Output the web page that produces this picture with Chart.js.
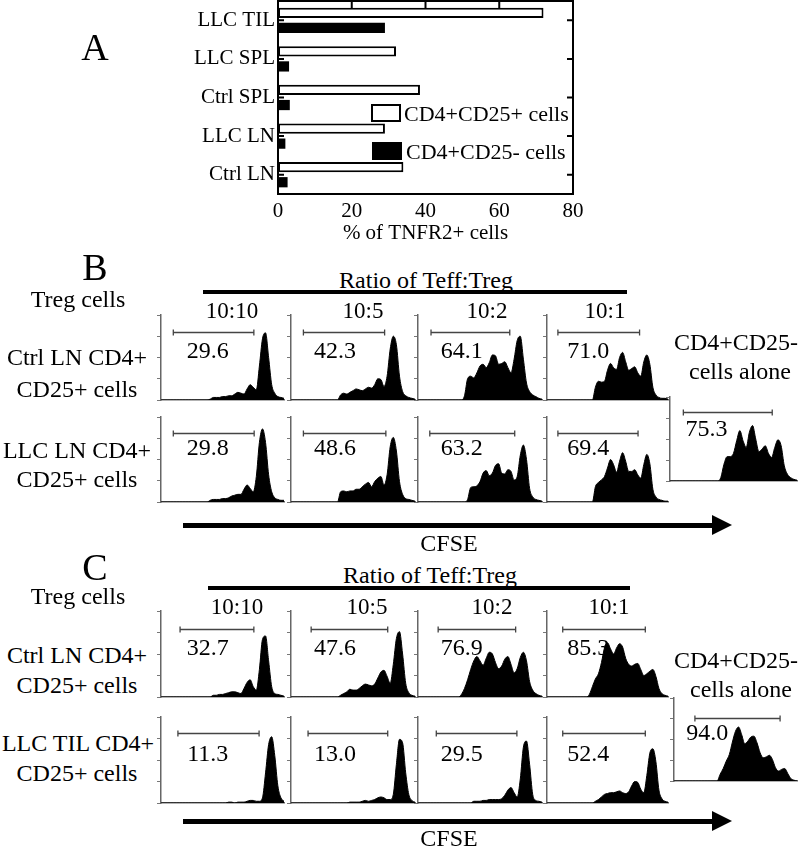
<!DOCTYPE html>
<html><head><meta charset="utf-8">
<script src="https://cdn.jsdelivr.net/npm/chart.js@4.4.0/dist/chart.umd.min.js"></script>
<style>
html,body{margin:0;padding:0;background:#fff;}
#root{position:relative;width:800px;height:846px;overflow:hidden;font-family:"Liberation Serif","Times New Roman",serif;color:#000;background:#fff;}
.t{position:absolute;white-space:nowrap;line-height:1;transform:translate(-50%,-50%);}
canvas{position:absolute;}
.bar{position:absolute;background:#000;}
.tri{position:absolute;width:0;height:0;border-left:20px solid #000;border-top:10px solid transparent;border-bottom:10px solid transparent;}
</style></head><body><div id="root"></div>
<script>
// ---------- Panel A data ----------
const A_CATEGORIES = ['LLC TIL', 'LLC SPL', 'Ctrl SPL', 'LLC LN', 'Ctrl LN'];
const A_CD25POS = [72, 32, 38.5, 29, 34];
const A_CD25NEG = [29, 3, 3.2, 2, 2.6];
const A_TICKS = [0, 20, 40, 60, 80];
const A_SERIES = ['CD4+CD25+ cells', 'CD4+CD25- cells'];

// ---------- Histogram data (CFSE channel 0..40, % of max counts) ----------
const CHANNELS = [0,1,2,3,4,5,6,7,8,9,10,11,12,13,14,15,16,17,18,19,20,21,22,23,24,25,26,27,28,29,30,31,32,33,34,35,36,37,38,39,40];
const RATIOS = ['10:10', '10:5', '10:2', '10:1'];

const B_CTRL_1010 = [0,0,0,0,0,0,0,0,0,0,0,0,0,0,0,0, 1,3,3,3,4,4,5,5,7,9, 8,7,13,18,15,12,40,72,79,50, 18,8,4,3,2];
const B_CTRL_105  = [0,0,0,0,0,0,0,0,0,0,0,0,0,0,0,0, 6,8,7,9,11,13,12,11,13,15, 14,18,25,24,16,28,60,75,65,28, 10,5,3,2,1];
const B_CTRL_102  = [0,0,0,0,0,0,0,0,0,0,0,0,0,0,0, 5,25,28,26,32,40,42,38,44,53, 52,42,43,45,38,32,48,70,75,48, 20,10,6,4,2,1];
const B_CTRL_101  = [0,0,0,0,0,0,0,0,0,0,0,0,0,0,0,0, 15,22,21,22,35,43,38,36,50,56, 45,35,37,39,32,28,45,53,42,15, 6,3,2,2,1];
const B_ALONE     = [0,0,0,0,0,0,0,0,0,0,0,0,0,0,0,0, 4,20,29,29,33,48,60,48,40,58, 66,50,35,38,42,33,28,40,49,42, 18,8,4,2,1];
const B_LLC_1010  = [0,0,0,0,0,0,0,0,0,0,0,0,0,0,0,0, 2,3,3,3,4,4,5,7,8,9, 9,15,20,16,12,30,70,86,70,32, 12,5,3,2,2];
const B_LLC_105   = [0,0,0,0,0,0,0,0,0,0,0,0,0,0,0,0, 12,13,12,13,13,15,15,18,21,23, 18,24,28,30,20,32,65,76,60,24, 9,4,3,2,1];
const B_LLC_102   = [0,0,0,0,0,0,0,0,0,0,0,0,0,0,0,0, 3,17,18,19,24,34,37,31,34,43, 45,34,33,38,36,26,30,55,67,50, 16,6,3,2,1];
const B_LLC_101   = [0,0,0,0,0,0,0,0,0,0,0,0,0,0,0,0, 18,23,26,30,40,50,44,35,48,58, 48,36,36,38,32,28,44,56,45,15, 6,3,2,1,1];

const C_CTRL_1010 = [0,0,0,0,0,0,0,0,0,0,0,0,0,0,0,0,0, 2,2,3,3,4,5,6,6,5,4, 10,17,20,12,8,32,67,71,42,12, 4,3,2,1];
const C_CTRL_105  = [0,0,0,0,0,0,0,0,0,0,0,0,0,0,0,0, 2,4,6,9,8,8,10,13,15,14, 13,15,22,29,31,24,16,38,68,76, 50,16,5,2,1];
const C_CTRL_102  = [0,0,0,0,0,0,0,0,0,0,0,0,0,0, 3,10,20,32,42,47,42,37,45,52, 50,40,33,36,44,47,38,28,33,46, 52,42,18,8,4,2,1];
const C_CTRL_101  = [0,0,0,0,0,0,0,0,0,0,0,0,0,0, 3,12,21,27,40,57,63,56,50,57, 62,58,45,38,36,38,39,32,25,27, 30,32,24,10,4,2,1];
const C_ALONE     = [0,0,0,0,0,0,0,0,0,0,0,0,0,0,0, 8,15,24,32,47,60,65,56,45,48, 53,54,46,34,28,29,31,26,16,12, 14,15,9,3,1,0];
const C_TIL_1010  = [0,0,0,0,0,0,0,0,0,0,0,0,0,0,0,0,0,0,0,0,0, 0,1,1,0,1,1,1,2,3,3, 2,2,6,35,68,77,55,20,6,2];
const C_TIL_105   = [0,0,0,0,0,0,0,0,0,0,0,0,0,0,0,0,0,0,0, 1,1,1,1,2,3,2,3,4,6, 7,6,4,4,10,45,74,70,35,10, 3,1];
const C_TIL_102   = [0,0,0,0,0,0,0,0,0,0,0,0,0,0,0,0,0,0, 2,2,2,3,3,4,4,4,4,5, 9,15,18,12,7,28,65,72,45,10, 3,2,1];
const C_TIL_101   = [0,0,0,0,0,0,0,0,0,0,0,0,0,0,0,0, 2,4,7,10,11,12,12,13,14,12, 11,13,20,25,24,16,12,32,58,63, 48,15,5,2,1];

// percentage of divided cells inside each gate
const B_PCT_CTRL = ['29.6', '42.3', '64.1', '71.0'];
const B_PCT_LLC  = ['29.8', '48.6', '63.2', '69.4'];
const B_PCT_ALONE = '75.3';
const C_PCT_CTRL = ['32.7', '47.6', '76.9', '85.3'];
const C_PCT_TIL  = ['11.3', '13.0', '29.5', '52.4'];
const C_PCT_ALONE = '94.0';

// gate boundaries (CFSE channel)
const B_GATE_CTRL = [[4, 30.2], [4, 30.2], [4.2, 29.6], [3.6, 30.6]];
const B_GATE_LLC  = [[4, 30.3], [4, 30.6], [3.8, 31.2], [3.6, 30.1]];
const B_GATE_ALONE = [4.2, 32.2];
const C_GATE_CTRL = [[6.2, 30.2], [6.5, 31.2], [6.5, 31.5], [5.2, 32.5]];
const C_GATE_TIL  = [[5.5, 31.9], [5.5, 31.2], [5.9, 31.9], [5.2, 32.5]];
const C_GATE_ALONE = [6.8, 34.5];

// ---------- helpers ----------
const FONT = '"Liberation Serif", "Times New Roman", serif';
const root = document.getElementById('root');
function txt(s, x, y, size) {
  const d = document.createElement('div');
  d.className = 't'; d.textContent = s;
  d.style.left = x + 'px'; d.style.top = y + 'px'; d.style.fontSize = size + 'px';
  root.appendChild(d);
}
function rect(x, y, w, h) {
  const d = document.createElement('div'); d.className = 'bar';
  Object.assign(d.style, {left: x + 'px', top: y + 'px', width: w + 'px', height: h + 'px'});
  root.appendChild(d);
}
function tri(x, y) {
  const d = document.createElement('div'); d.className = 'tri';
  d.style.left = x + 'px'; d.style.top = y + 'px'; root.appendChild(d);
}
function mkCanvas(x, y, w, h) {
  const c = document.createElement('canvas');
  c.width = w; c.height = h;
  Object.assign(c.style, {left: x + 'px', top: y + 'px', width: w + 'px', height: h + 'px'});
  root.appendChild(c); return c;
}

// ---------- Panel A ----------
const frameTicks = {
  id: 'frameTicks',
  afterDraw(chart, args, o) {
    const {ctx, chartArea: a, scales: {x, y}} = chart;
    ctx.save();
    ctx.strokeStyle = '#000'; ctx.lineWidth = 2;
    ctx.strokeRect(a.left, a.top, a.right - a.left, a.bottom - a.top);
    ctx.beginPath();
    o.topTicks.forEach(v => { const px = x.getPixelForValue(v); ctx.moveTo(px, a.top); ctx.lineTo(px, a.top + 7); });
    y.ticks.forEach((t, i) => {
      const py = y.getPixelForTick(i);
      ctx.moveTo(a.left, py); ctx.lineTo(a.left + 6, py);
      ctx.moveTo(a.right, py); ctx.lineTo(a.right - 6, py);
    });
    ctx.stroke();
    // legend
    const ds = chart.data.datasets;
    ctx.font = '22px ' + FONT; ctx.textBaseline = 'alphabetic'; ctx.textAlign = 'left';
    o.legend.forEach((L, i) => {
      ctx.fillStyle = ds[i].backgroundColor; ctx.fillRect(L.bx, L.by, L.bw, L.bh);
      ctx.strokeStyle = '#000'; ctx.lineWidth = 2; ctx.strokeRect(L.bx, L.by, L.bw, L.bh);
      ctx.fillStyle = '#000'; ctx.fillText(ds[i].label, L.tx, L.ty);
    });
    ctx.restore();
  }
};
const cA = mkCanvas(0, 0, 600, 250);
new Chart(cA, {
  type: 'bar',
  data: {
    labels: A_CATEGORIES,
    datasets: [
      {label: A_SERIES[0], data: A_CD25POS, backgroundColor: '#fff', borderColor: '#000', borderWidth: 2, borderSkipped: false, categoryPercentage: 0.78, barPercentage: 0.68},
      {label: A_SERIES[1], data: A_CD25NEG, backgroundColor: '#000', borderColor: '#000', borderWidth: 0, categoryPercentage: 0.78, barPercentage: 0.68}
    ]
  },
  options: {
    indexAxis: 'y', responsive: false, animation: false, devicePixelRatio: 1, events: [],
    layout: {padding: {left: 0, right: 27, top: 1, bottom: 0}},
    plugins: {
      legend: {display: false}, tooltip: {enabled: false},
      frameTicks: {
        topTicks: [20, 40, 60],
        legend: [
          {bx: 372, by: 105, bw: 28, bh: 16, tx: 404, ty: 121},
          {bx: 373, by: 143, bw: 28, bh: 16, tx: 406, ty: 159}
        ]
      }
    },
    scales: {
      x: {
        min: 0, max: 80,
        afterBuildTicks: s => { s.ticks = A_TICKS.map(v => ({value: v})); },
        ticks: {color: '#000', font: {family: FONT, size: 21}, padding: 5, maxRotation: 0},
        grid: {display: false, drawTicks: false}, border: {display: false},
        title: {display: true, text: '% of TNFR2+ cells', color: '#000', font: {family: FONT, size: 21}, padding: {top: 0, bottom: 4}},
        afterFit: s => { s.height = 56; s.paddingLeft = 0; s.paddingRight = 0; }
      },
      y: {
        ticks: {color: '#000', font: {family: FONT, size: 21}, padding: 3},
        grid: {display: false, drawTicks: false}, border: {display: false},
        afterFit: s => { s.width = 278; s.paddingTop = 0; s.paddingBottom = 0; }
      }
    }
  },
  plugins: [frameTicks]
});

// ---------- histograms ----------
const gatePlugin = {
  id: 'gate',
  beforeDatasetsDraw(chart, args, o) {
    const {ctx, scales: {x, y}} = chart;
    const x1 = x.getPixelForValue(o.from), x2 = x.getPixelForValue(o.to), yy = Math.round(y.getPixelForValue(o.level)) + 0.5;
    ctx.save();
    ctx.strokeStyle = '#444'; ctx.lineWidth = 1.3;
    ctx.beginPath();
    ctx.moveTo(x1, yy); ctx.lineTo(x2, yy);
    ctx.moveTo(x1, yy - 3); ctx.lineTo(x1, yy + 3);
    ctx.moveTo(x2, yy - 3); ctx.lineTo(x2, yy + 3);
    ctx.stroke();
    ctx.fillStyle = '#000'; ctx.font = '24px ' + FONT;
    ctx.textAlign = 'center'; ctx.textBaseline = 'alphabetic';
    ctx.fillText(o.text, x.getPixelForValue(o.lx), y.getPixelForValue(o.ly) + 8);
    ctx.restore();
  }
};
function histo(p) {
  const w = p.right - p.left, h = p.base - p.top;
  const padL = 5, padT = 3, padR = 2, padB = 2;
  const c = mkCanvas(p.left - padL, p.top - padT, w + padL + padR, h + padT + padB);
  new Chart(c, {
    type: 'line',
    data: {labels: CHANNELS, datasets: [{data: p.data, fill: 'origin', backgroundColor: '#000', borderColor: '#000', borderWidth: 1, pointRadius: 0, cubicInterpolationMode: 'monotone'}]},
    options: {
      responsive: false, animation: false, devicePixelRatio: 1, events: [],
      layout: {padding: {left: 1, top: padT, right: padR, bottom: padB}},
      plugins: {legend: {display: false}, tooltip: {enabled: false},
        gate: {from: p.gate[0], to: p.gate[1], level: p.level, text: p.text, lx: p.lx, ly: p.ly}},
      scales: {
        x: {ticks: {display: false}, grid: {display: false}, border: {display: true, color: '#666', width: 1.5},
            afterFit: s => { s.height = 0; s.paddingLeft = 0; s.paddingRight = 0; }},
        y: {min: 0, max: 100, ticks: {display: false, stepSize: 25},
            grid: {drawOnChartArea: false, drawTicks: true, tickLength: 4, color: '#777', lineWidth: 1},
            border: {display: true, color: '#666', width: 1.5},
            afterFit: s => { s.width = 4; s.paddingTop = 0; s.paddingBottom = 0; }}
      }
    },
    plugins: [gatePlugin]
  });
}

const COLS = [[161, 284], [291, 415], [418, 542], [547, 668]];
const LX = [15.2, 14.2, 14.1, 13.6];
function row(datas, gates, pcts, top, base, level, ly) {
  datas.forEach((d, i) => histo({left: COLS[i][0], right: COLS[i][1], top, base, data: d, gate: gates[i], level, text: pcts[i], lx: LX[i], ly}));
}
// Panel B
row([B_CTRL_1010, B_CTRL_105, B_CTRL_102, B_CTRL_101], B_GATE_CTRL, B_PCT_CTRL, 315, 400, 80, 59);
row([B_LLC_1010, B_LLC_105, B_LLC_102, B_LLC_101], B_GATE_LLC, B_PCT_LLC, 417, 502, 81, 65);
histo({left: 670, right: 797, top: 397, base: 481, data: B_ALONE, gate: B_GATE_ALONE, level: 82, text: B_PCT_ALONE, lx: 11.5, ly: 63});
// Panel C
row([C_CTRL_1010, C_CTRL_105, C_CTRL_102, C_CTRL_101], C_GATE_CTRL, C_PCT_CTRL, 611, 697, 79, 58);
row([C_TIL_1010, C_TIL_105, C_TIL_102, C_TIL_101], C_GATE_TIL, C_PCT_TIL, 717, 803, 81, 58);
histo({left: 674, right: 797, top: 698, base: 781, data: C_ALONE, gate: C_GATE_ALONE, level: 76, text: C_PCT_ALONE, lx: 10.8, ly: 59});

// ---------- text & decorations ----------
txt('A', 95, 47, 38);
txt('B', 95, 267, 38);
txt('C', 95, 567, 38);
txt('Treg cells', 78, 299, 24);
txt('Treg cells', 78, 596, 24);
txt('Ratio of Teff:Treg', 426, 280, 24);
txt('Ratio of Teff:Treg', 430, 575, 24);
rect(203, 290, 424, 4);
rect(208, 586, 422, 4);
[232, 363, 487, 605].forEach((x, i) => txt(RATIOS[i], x, 310, 23));
[237, 367, 492, 609].forEach((x, i) => txt(RATIOS[i], x, 606, 23));
txt('Ctrl LN CD4+', 77, 357, 24); txt('CD25+ cells', 77, 389, 24);
txt('LLC LN CD4+', 77, 450, 24); txt('CD25+ cells', 77, 479, 24);
txt('Ctrl LN CD4+', 77, 655, 24); txt('CD25+ cells', 77, 685, 24);
txt('LLC TIL CD4+', 78, 743, 24); txt('CD25+ cells', 77, 773, 24);
txt('CD4+CD25-', 736, 342, 24); txt('cells alone', 740, 371, 24);
txt('CD4+CD25-', 736, 660, 24); txt('cells alone', 741, 689, 24);
rect(183, 523, 531, 5); tri(712, 515);
rect(183, 819, 531, 5); tri(712, 811);
txt('CFSE', 449, 543, 24);
txt('CFSE', 449, 838, 24);
</script></body></html>
